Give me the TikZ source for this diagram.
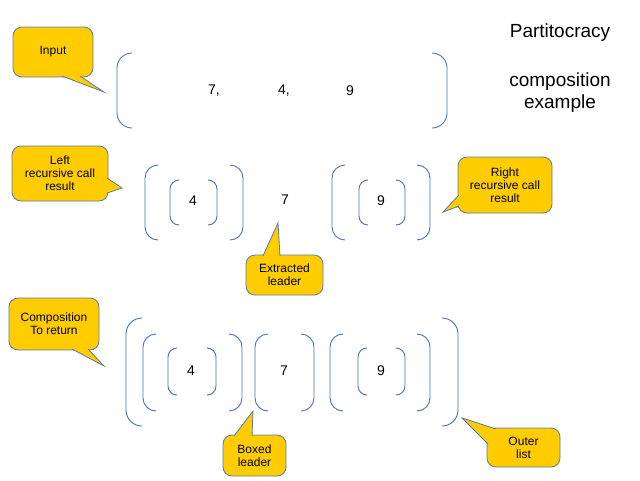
\documentclass[tikz,border=0pt]{standalone}
\usepackage{fontspec}
\setmainfont{Liberation Sans}
\begin{document}
\begin{tikzpicture}[x=1pt,y=-1pt,
  br/.style={draw=brk,line width=0.9pt},
  ctext/.style={align=center,font=\fontsize{12}{13}\selectfont,inner sep=0pt},
  num/.style={font=\fontsize{14}{16}\selectfont,inner sep=0pt},
  ttl/.style={font=\fontsize{19}{22}\selectfont,inner sep=0pt}]
\definecolor{brk}{HTML}{4A72B0}
\definecolor{cy}{HTML}{FFCC00}
\definecolor{cb}{HTML}{5A7AA8}
\useasboundingbox (0,0) rectangle (640,480);
\newcommand{\brpair}[5]{% x1 x2 y1 y2 r
  \draw[br,rounded corners=#5] (#1+#5,#3) -- (#1,#3) -- (#1,#4) -- (#1+#5,#4);
  \draw[br,rounded corners=#5] (#2-#5,#3) -- (#2,#3) -- (#2,#4) -- (#2-#5,#4);}
\newcommand{\callout}[9]{% name x1 y1 x2 y2 base1 base2 tip text
  \fill[cy] #6 -- #8 -- #7 -- cycle;
  \draw[cb,fill=cy,line width=0.8pt,rounded corners=9] (#2,#3) rectangle (#4,#5);
  \fill[cy] #6 -- #8 -- #7 -- cycle;
  \draw[cb,line width=0.8pt] #6 -- #8 -- #7;
  \node[ctext] (#1) at ({(#2+#4)/2},{(#3+#5)/2}) {#9};}
% title
\node[ttl] (t1) at (560,33) {Partitocracy};
\node[ttl,align=center] (t2) at (560,93) {composition\\example};
% row 1
\brpair{117}{447}{53}{128}{15}
\node[num] (a7) at (214,91) {7,};
\node[num] (a4) at (284,91) {4,};
\node[num] (a9) at (350,91) {9};
\callout{cin}{13}{27}{93}{77}{(62,76)}{(80,76)}{(104,92)}{Input}
% row 2
\brpair{145}{243}{165}{240}{13}
\brpair{170}{217}{180}{225}{9}
\brpair{332}{430}{165}{240}{13}
\brpair{359}{405}{180}{225}{9}
\node[num] (b4) at (193,201) {4};
\node[num] (b7) at (285,200) {7};
\node[num] (b9) at (381,201) {9};
\callout{cl}{12}{146}{108}{201}{(107,178)}{(107,193)}{(122,188)}{Left\\recursive call\\result}
\callout{cr}{458}{157}{552}{213}{(459,195)}{(459,206)}{(443,212)}{Right\\recursive call\\result}
\callout{ce}{246}{255}{323}{295}{(263,256)}{(280,256)}{(278,223)}{Extracted\\leader}
% row 3
\brpair{126}{458}{318}{426}{16}
\brpair{143}{242}{334}{411}{13}
\brpair{168}{216}{348}{395}{9}
\brpair{255}{314}{334}{411}{13}
\brpair{330}{430}{334}{411}{13}
\brpair{358}{405}{348}{395}{9}
\node[num] (c4) at (191,371) {4};
\node[num] (c7) at (284,371) {7};
\node[num] (c9) at (381,371) {9};
\callout{cc}{9}{298}{99}{350}{(72,349)}{(88,349)}{(104,366)}{Composition\\To return}
\callout{cbx}{223}{435}{286}{476}{(234,436)}{(252,436)}{(253,411)}{Boxed\\leader}
\callout{co}{487}{428}{560}{467}{(496,429)}{(488,444)}{(462,418)}{Outer\\list}
\end{tikzpicture}
\end{document}
